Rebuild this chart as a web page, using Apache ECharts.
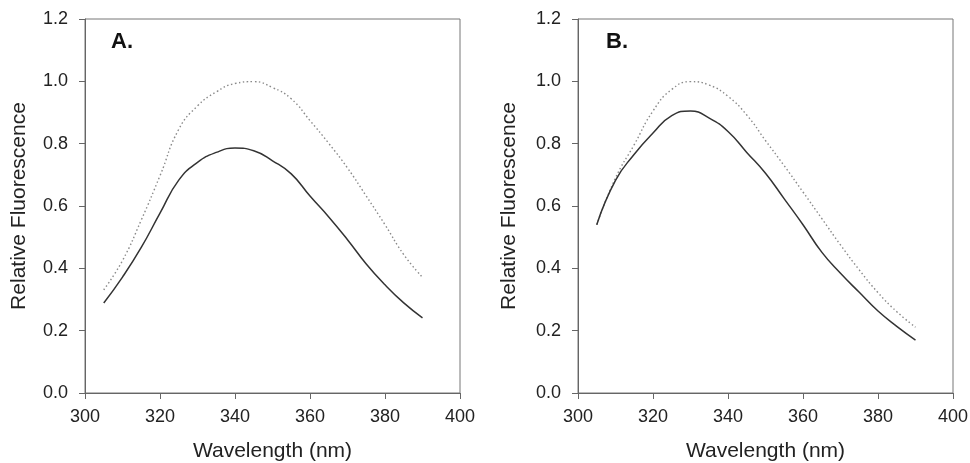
<!DOCTYPE html>
<html>
<head>
<meta charset="utf-8">
<script src="https://cdn.jsdelivr.net/npm/echarts@6/dist/echarts.min.js"></script>
<style>
html,body{margin:0;padding:0;background:#fff;}
#chart{width:970px;height:463px;}
</style>
</head>
<body>
<div id="chart"></div>
<script>
// Wavelength (nm) sample points
var wavelengths = [305,310,315,320,325,330,335,340,345,350,355,360,365,370,375,380,385,390];
// Panel A
var aSolid  = [0.289,0.372,0.467,0.577,0.683,0.740,0.772,0.786,0.777,0.745,0.703,0.632,0.565,0.492,0.414,0.347,0.289,0.241];
var aDotted = [0.331,0.425,0.555,0.697,0.846,0.921,0.966,0.993,0.999,0.980,0.944,0.874,0.801,0.722,0.632,0.540,0.444,0.371];
// Panel B
var bSolid  = [0.540,0.682,0.766,0.834,0.890,0.905,0.882,0.839,0.772,0.705,0.623,0.540,0.452,0.384,0.323,0.263,0.214,0.170];
var bDotted = [0.540,0.690,0.797,0.905,0.974,0.999,0.988,0.952,0.892,0.810,0.729,0.645,0.560,0.475,0.395,0.322,0.261,0.211];
var xTicks = [300,320,340,360,380,400];
var yTicks = [0.0,0.2,0.4,0.6,0.8,1.0,1.2];
var panelLabels = ['A.','B.'];

function pairs(xs, ys){ return xs.map(function(x,i){ return [x, ys[i]]; }); }

var FONT = 'Liberation Sans, Arial, sans-serif';
var chart = echarts.init(document.getElementById('chart'), null, {renderer:'canvas'});

function xAx(idx){
  return {
    type:'value', gridIndex:idx, min:xTicks[0], max:xTicks[xTicks.length-1], interval:20,
    name:'Wavelength (nm)', nameLocation:'middle', nameGap:48,
    nameTextStyle:{fontFamily:FONT, fontSize:21, color:'#222'},
    axisLine:{show:true, lineStyle:{color:'#666', width:1}},
    axisTick:{show:true, inside:false, length:6, lineStyle:{color:'#666'}},
    axisLabel:{fontFamily:FONT, fontSize:18, color:'#222', margin:15},
    splitLine:{show:false}
  };
}
function yAx(idx, gap){
  return {
    type:'value', gridIndex:idx, min:yTicks[0], max:yTicks[yTicks.length-1], interval:0.2,
    name:'Relative Fluorescence', nameLocation:'middle', nameGap:gap, nameRotate:90,
    nameTextStyle:{fontFamily:FONT, fontSize:21, color:'#222'},
    axisLine:{show:true, lineStyle:{color:'#666', width:1}},
    axisTick:{show:true, inside:false, length:6, lineStyle:{color:'#666'}},
    axisLabel:{fontFamily:FONT, fontSize:18, color:'#222', margin:17,
      formatter:function(v){ return v.toFixed(1); }},
    splitLine:{show:false}
  };
}
function lineSeries(idx, xs, ys, dotted){
  return {
    type:'line', xAxisIndex:idx, yAxisIndex:idx, data:pairs(xs, ys),
    smooth:0.5, showSymbol:false, symbol:'none', silent:true,
    lineStyle: dotted ? {color:'#8a8a8a', width:1.4, type:[1.5,2.5]} : {color:'#333', width:1.5, type:'solid'},
    z: dotted ? 2 : 3
  };
}

var option = {
  backgroundColor:'#fff',
  animation:false,
  grid:[
    {left:85, top:19, width:375, height:374, show:true, borderColor:'#777', borderWidth:1, backgroundColor:'transparent', containLabel:false, outerBoundsMode:'none'},
    {left:578, top:19, width:375, height:374, show:true, borderColor:'#777', borderWidth:1, backgroundColor:'transparent', containLabel:false, outerBoundsMode:'none'}
  ],
  xAxis:[xAx(0), xAx(1)],
  yAxis:[yAx(0,55), yAx(1,58)],
  graphic:[
    {type:'text', left:111, top:31, style:{text:panelLabels[0], fontFamily:FONT, fontSize:22, fontWeight:'bold', fill:'#111'}},
    {type:'text', left:606, top:31, style:{text:panelLabels[1], fontFamily:FONT, fontSize:22, fontWeight:'bold', fill:'#111'}}
  ],
  series:[
    lineSeries(0, wavelengths, aDotted, true),
    lineSeries(0, wavelengths, aSolid, false),
    lineSeries(1, wavelengths, bDotted, true),
    lineSeries(1, wavelengths, bSolid, false)
  ]
};
chart.setOption(option);
</script>
</body>
</html>
